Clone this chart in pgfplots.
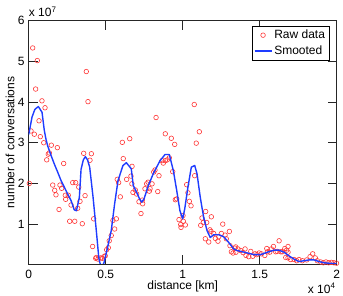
\documentclass[border=0pt]{standalone}
\usepackage{fontspec}
\setmainfont{Liberation Sans}
\usepackage{pgfplots}
\pgfplotsset{compat=1.18}
\definecolor{rawred}{RGB}{255,55,55}
\definecolor{smblue}{RGB}{30,60,255}
\newcommand{\ff}{\fontsize{12}{14}\selectfont}
\begin{document}
\begin{tikzpicture}
\useasboundingbox (-28.7pt,-32pt) rectangle (314.3pt,264pt);
\begin{axis}[
  at={(0,0)}, anchor=south west,
  scale only axis, width=308pt, height=243.3pt,
  xmin=0, xmax=20000, ymin=2e5, ymax=6e7,
  xtick={0,5000,10000,15000,20000},
  xticklabels={0,0.5,1,1.5,2},
  ytick={1e7,2e7,3e7,4e7,5e7,6e7},
  yticklabels={1,2,3,4,5,6},
  scaled ticks=false,
  tick align=inside,
  major tick length=9pt,
  axis line style={black!85, line width=0.6pt},
  every tick/.style={black!85, line width=0.6pt},
  tick label style={font=\ff},
  xticklabel style={yshift=-2.5pt},
  yticklabel style={xshift=-0.5pt},
  xlabel={distance [km]},
  ylabel={number of conversations},
  label style={font=\ff},
  xlabel style={at={(axis description cs:0.5,-0.0905)}, anchor=center},
  ylabel style={at={(axis description cs:-0.0607,0.5)}, anchor=center},
  legend style={at={(0.976,0.979)}, anchor=north east, draw=black, line width=0.6pt,
    font=\ff, inner xsep=2pt, inner ysep=2pt, row sep=1.5pt},
  legend cell align=left,
  clip mode=individual,
]
\addplot[only marks, mark=o, mark size=2.3pt, rawred, mark options={line width=0.6pt}] coordinates {
(40,2.00e7) (150,3.29e7) (260,5.33e7) (365,3.21e7) (450,4.32e7) (560,5.02e7)
(670,3.54e7) (755,3.15e7) (860,4.03e7) (975,3.00e7) (1060,3.86e7) (1170,2.58e7)
(1270,2.72e7) (1340,2.75e7) (1470,2.94e7) (1560,1.96e7) (1690,1.83e7) (1770,1.72e7)
(1860,2.88e7) (1970,1.36e7) (2030,1.96e7) (2140,1.88e7) (2270,2.49e7) (2380,1.71e7)
(2400,1.61e7) (2570,1.71e7) (2660,1.07e7) (2750,1.47e7) (2860,2.02e7) (2990,1.07e7)
(3050,2.02e7) (3180,1.39e7) (3250,1.91e7) (3330,1.56e7) (3480,1.01e7) (3570,2.74e7)
(3660,1.70e7) (3740,4.75e7) (3850,4.01e7) (3980,2.57e7) (4070,2.73e7) (4150,0.45e7)
(4220,1.13e7) (4350,0.16e7) (4390,0.18e7) (4500,0.14e7) (4680,0.17e7) (4780,0.16e7)
(4890,0.20e7) (4970,0.22e7) (5060,0.37e7) (5170,0.42e7) (5230,0.59e7) (5360,0.72e7)
(5470,1.09e7) (5580,0.88e7) (5690,1.13e7) (5750,2.10e7) (5840,2.02e7) (5950,1.67e7)
(6080,3.01e7) (6140,2.61e7) (6360,2.10e7) (6560,3.10e7) (6640,2.18e7) (6710,2.42e7)
(6700,1.99e7) (6770,1.78e7) (6920,1.84e7) (7010,1.74e7) (7160,1.55e7) (7290,1.26e7)
(7380,1.59e7) (7400,1.50e7) (7550,1.87e7) (7660,1.99e7) (7750,2.03e7) (7830,1.81e7)
(7880,1.87e7) (8010,1.99e7) (8120,2.28e7) (8200,2.33e7) (8270,3.62e7) (8380,1.80e7)
(8460,2.19e7) (8660,2.56e7) (8740,2.50e7) (8870,2.56e7) (8870,3.22e7) (9000,2.58e7)
(9130,2.63e7) (9260,3.11e7) (9350,2.29e7) (9480,2.96e7) (9520,1.60e7) (9610,1.62e7)
(9760,1.11e7) (9870,0.99e7) (9890,0.92e7) (10020,1.21e7) (10040,1.07e7) (10170,0.98e7)
(10260,1.97e7) (10340,1.77e7) (10430,1.56e7) (10540,1.45e7) (10750,3.94e7) (10780,2.19e7)
(10880,2.99e7) (11080,3.27e7) (11170,0.97e7) (11250,1.15e7) (11340,1.04e7) (11470,0.64e7)
(11490,1.31e7) (11560,1.04e7) (11690,0.56e7) (11770,0.86e7) (11840,0.82e7) (11860,1.18e7)
(12010,0.77e7) (12120,0.65e7) (12290,0.58e7) (12340,0.69e7) (12510,0.77e7) (12600,1.00e7)
(12750,0.73e7) (12830,0.64e7) (13030,0.82e7) (13070,0.47e7) (13160,0.32e7) (13270,0.29e7)
(13380,0.41e7) (13440,0.44e7) (13460,0.31e7) (13590,0.39e7) (13770,0.35e7) (13920,0.30e7)
(14050,0.39e7) (14110,0.23e7) (14290,0.20e7) (14420,0.33e7) (14550,0.21e7) (14700,0.27e7)
(14810,0.25e7) (14960,0.29e7) (15110,0.27e7) (15330,0.23e7) (15460,0.40e7) (15500,0.32e7)
(15650,0.31e7) (15760,0.39e7) (15890,0.45e7) (16040,0.32e7) (16140,0.33e7) (16260,0.59e7)
(16370,0.32e7) (16470,0.32e7) (16630,0.40e7) (16690,0.18e7) (16750,0.36e7) (16840,0.45e7)
(16840,0.31e7) (16840,0.17e7) (17010,0.13e7) (17230,0.13e7) (17400,0.10e7) (17550,0.13e7)
(17770,0.10e7) (18050,0.12e7) (18270,0.20e7) (18440,0.27e7) (18610,0.17e7) (18740,0.10e7)
(18960,0.07e7) (19130,0.05e7) (19300,0.07e7) (19480,0.05e7) (19650,0.06e7) (19820,0.05e7)
(19990,0.04e7)
};
\addlegendentry{Raw data}
\addplot[smblue, line width=1.4pt, line join=round] coordinates {
(0,3.20e7) (85,3.37e7) (215,3.63e7) (400,3.82e7) (625,3.89e7) (865,3.75e7)
(1015,3.30e7) (1125,3.08e7) (1235,2.92e7) (1450,2.69e7) (1660,2.48e7) (1880,2.28e7)
(2100,2.07e7) (2310,1.91e7) (2530,1.74e7) (2750,1.58e7) (2960,1.35e7) (3100,1.33e7)
(3290,1.66e7) (3400,2.35e7) (3550,2.58e7) (3680,2.66e7) (3820,2.58e7) (3960,2.40e7)
(4180,1.66e7) (4390,0.84e7) (4550,0.18e7) (4620,0.05e7) (4750,-0.05e7) (4890,0.05e7)
(5100,0.39e7) (5360,0.84e7) (5580,1.50e7) (5800,2.07e7) (6120,2.44e7) (6340,2.51e7)
(6660,2.36e7) (6790,1.95e7) (7010,1.78e7) (7200,1.62e7) (7340,1.54e7) (7490,1.62e7)
(7770,1.95e7) (8090,2.24e7) (8530,2.56e7) (8850,2.71e7) (9130,2.71e7) (9390,2.32e7)
(9610,1.83e7) (9820,1.33e7) (10000,1.13e7) (10130,1.37e7) (10340,1.91e7) (10560,2.40e7)
(10780,2.44e7) (10930,2.24e7) (11140,1.66e7) (11360,1.17e7) (11580,0.84e7) (11790,0.67e7)
(12010,0.74e7) (12340,0.74e7) (12660,0.69e7) (12990,0.55e7) (13310,0.39e7) (13530,0.35e7)
(14000,0.31e7) (14630,0.25e7) (15060,0.25e7) (15500,0.31e7) (15930,0.36e7) (16250,0.36e7)
(16580,0.31e7) (16900,0.22e7) (17230,0.14e7) (17550,0.08e7) (17880,0.10e7) (18200,0.12e7)
(18530,0.12e7) (18850,0.08e7) (19180,0.05e7) (19610,0.035e7) (20000,0.03e7)
};
\addlegendentry{Smooted}
\node[font=\ff, anchor=base west, inner sep=0pt] at (rel axis cs:0,1) [yshift=4pt] {x 10\textsuperscript{7}};
\node[font=\ff, anchor=base east, inner sep=0pt] at (rel axis cs:1,0) [yshift=-29.3pt, xshift=-1pt] {x 10\textsuperscript{4}};
\end{axis}
\end{tikzpicture}
\end{document}
